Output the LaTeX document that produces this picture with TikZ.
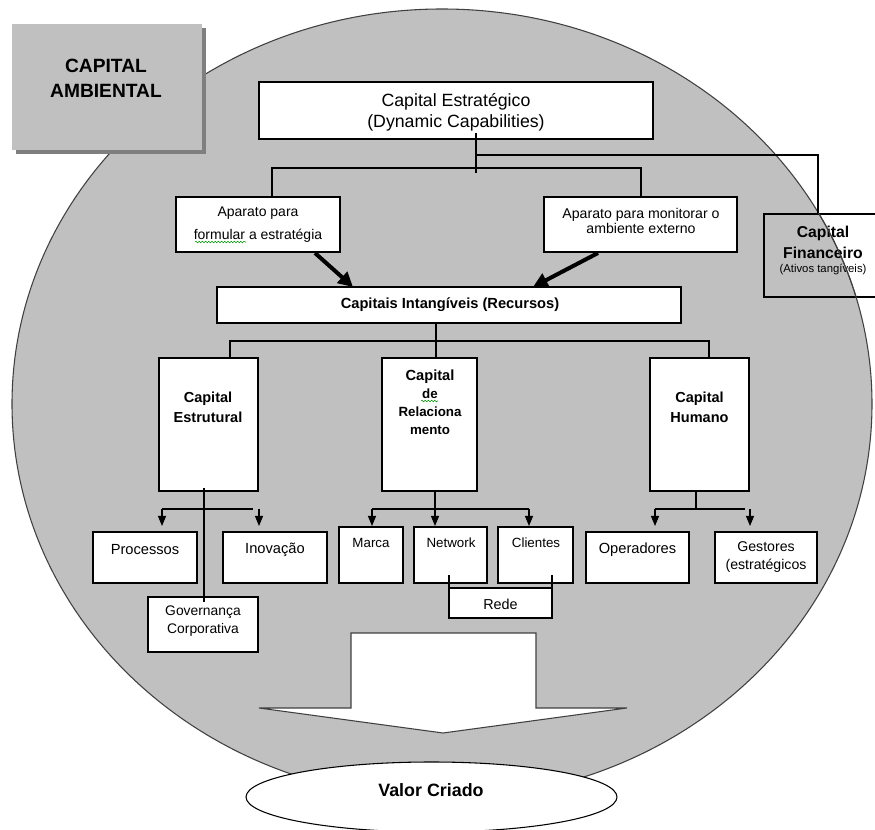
\documentclass[tikz,border=0pt]{standalone}
\usepackage{fontspec}
\setmainfont{Liberation Sans}
\usetikzlibrary{arrows.meta,shapes.geometric,fit,decorations.pathmorphing}
\definecolor{envgray}{HTML}{C0C0C0}
\definecolor{shadowgray}{HTML}{7F7F7F}
\definecolor{rim}{HTML}{404040}
\newcommand\fsz[2]{\fontsize{#1}{#2}\selectfont}

\begin{document}
\begin{tikzpicture}[x=0.75pt,y=-0.75pt,
  box/.style={draw=black, line width=0.9pt, fill=white, inner sep=0pt},
  txt/.style={inner sep=0pt, align=center, text=black},
  link/.style={draw=black, line width=0.8pt},
  drop/.style={link, -{Triangle[length=7.5pt,width=6pt]}},
  bigarrow/.style={draw=black, line width=3pt, -{Triangle[length=11pt,width=11pt]}},
  squiggle/.style={draw=green!55!black, line width=0.4pt, decorate,
    decoration={snake, segment length=2.4pt, amplitude=0.6pt}}
]
\useasboundingbox (0,0) rectangle (875,830);
\clip (0,0) rectangle (875,830);

% environment (grey ellipse)
\node[ellipse, draw=rim, line width=0.8pt, fill=envgray, inner sep=0pt,
      minimum width=645pt, minimum height=592.5pt] (env) at (442,404) {};

% CAPITAL AMBIENTAL label with drop shadow
\node[fill=shadowgray, inner sep=0pt, fit={(16,28) (206,154)}] (amb-shadow) {};
\node[fill=envgray, inner sep=0pt, fit={(12,24) (202,150)}] (amb) {};
\node[txt, font=\fsz{14.4}{18.75}\bfseries] (amb-t) at (106,78.5) {CAPITAL\\AMBIENTAL};

% broad arrow towards the created value
\filldraw[fill=white, draw=rim, line width=0.8pt]
  (351,633) -- (536,633) -- (536,708) -- (627,708) -- (443,733)
  -- (259,708) -- (351,708) -- cycle;

% created value
\node[ellipse, draw=black, line width=0.8pt, fill=white, inner sep=0pt,
      minimum width=278.25pt, minimum height=52.5pt] (valor) at (431.5,797) {};
\node[txt, font=\fsz{13.4}{16}\bfseries] (valor-t) at (431,790) {Valor Criado};

% strategic capital
\node[box, fit={(259,82) (653,139)}] (strat) {};
\node[txt, font=\fsz{13.3}{15.75}] (strat-t) at (456,112.5)
  {Capital Estratégico\\(Dynamic Capabilities)};

% the two apparatus boxes
\node[box, fit={(176,197) (340,252)}] (form) {};
\node[txt, font=\fsz{10.5}{17.25}] (form-t) at (258,224.5)
  {Aparato para\\formular a estratégia};
\draw[squiggle] (195,242) -- (246,242);
\node[box, fit={(544,197) (737,252)}] (moni) {};
\node[txt, font=\fsz{10.6}{11.6}] (moni-t) at (641,221)
  {Aparato para monitorar o\\ambiente externo};

% financial capital (open box)
\node[draw=black, line width=0.9pt, inner sep=0pt, fit={(764,214) (882,297)}] (fin) {};
\node[txt, font=\fsz{11.8}{15.75}\bfseries] (fin-t) at (823,242.5) {Capital\\Financeiro};
\node[txt, font=\fsz{8.5}{10}] (fin-s) at (823,270) {(Ativos tangíveis)};
\begin{scope}
  \clip (fin.north west) rectangle (fin.south east);
  \draw[rim, line width=0.8pt] (442,404) ellipse [x radius=322.5pt, y radius=296.25pt];
\end{scope}

% links below the strategic capital
\coordinate (s-top) at (476,133);
\coordinate (s-bot) at (476,173);
\draw[link] (s-top) -- (s-bot);
\coordinate (bl) at (272,168);
\coordinate (br) at (641,168);
\draw[link] (bl |- form.north) -- (bl) -- (br) -- (br |- moni.north);
\coordinate (fl) at (476,155);
\coordinate (fr) at (818,155);
\draw[link] (fl) -- (fr) -- (fr |- fin.north);

% intangible capitals
\node[box, fit={(217,287) (681,323)}] (intang) {};
\node[txt, font=\fsz{11}{13}\bfseries] (intang-t) at (450,305)
  {Capitais Intangíveis (Recursos)};
\coordinate (aL1) at (315,253);
\coordinate (aL2) at (353,287);
\coordinate (aR1) at (598,253);
\coordinate (aR2) at (533,287);
\draw[bigarrow] (aL1) -- (aL2);
\draw[bigarrow] (aR1) -- (aR2);

% the three kinds of intangible capital
\node[box, fit={(159,358) (258,491)}] (estr) {};
\node[txt, font=\fsz{10.9}{15}\bfseries] (estr-t) at (208,407) {Capital\\Estrutural};
\node[box, fit={(382,358) (477,491)}] (rel) {};
\node[txt, font=\fsz{10}{13.5}\bfseries] (rel-t) at (430,402)
  {{\fsz{11}{13.5}Capital}\\de\\Relaciona\\mento};
\draw[squiggle] (421,401) -- (438,401);
\node[box, fit={(650,358) (749,491)}] (hum) {};
\node[txt, font=\fsz{10.9}{15}\bfseries] (hum-t) at (699.5,407) {Capital\\Humano};

\coordinate (iv) at (436,341);
\coordinate (ivl) at (230,341);
\coordinate (ivr) at (709,341);
\draw[link] (iv |- intang.south) -- (iv |- rel.north);
\draw[link] (ivl |- estr.north) -- (ivl) -- (ivr) -- (ivr |- hum.north);

% structural capital components
\node[box, fit={(93,532) (197,583)}] (proc) {};
\node[txt, font=\fsz{11}{13}] (proc-t) at (145,550) {Processos};
\node[box, fit={(223,532) (327,583)}] (inov) {};
\node[txt, font=\fsz{11}{13}] (inov-t) at (275,550) {Inovação};
\node[box, fit={(148,597) (258,652)}] (gov) {};
\node[txt, font=\fsz{10.4}{13.5}] (gov-t) at (203,621) {Governança\\Corporativa};

\coordinate (e1) at (204,488);
\coordinate (e2) at (204,509);
\coordinate (e3) at (204,602);
\draw[link, line width=1.6pt] (e1) -- (e2);
\draw[link] (e2) -- (e3);
\coordinate (eh1) at (162,509);
\coordinate (eh2) at (253,509);
\coordinate (et1) at (162,526);
\coordinate (eh3) at (259,509);
\coordinate (et2) at (259,526);
\draw[link] (eh1) -- (eh2);
\draw[drop] (eh1) -- (et1);
\draw[drop] (eh3) -- (et2);

% relationship capital components
\node[box, fit={(339,527) (403,583)}] (marca) {};
\node[txt, font=\fsz{10}{12}] (marca-t) at (371,543) {Marca};
\node[box, fit={(414,527) (487,583)}] (net) {};
\node[txt, font=\fsz{10}{12}] (net-t) at (451,543) {Network};
\node[box, fit={(498,527) (573,583)}] (cli) {};
\node[txt, font=\fsz{10}{12}] (cli-t) at (536,543) {Clientes};
\node[box, fit={(449,588) (552,618)}] (rede) {};
\node[txt, font=\fsz{10.8}{13}] (rede-t) at (500.5,604) {Rede};

\coordinate (r0) at (435,509);
\draw[link] (r0 |- rel.south) -- (r0);
\coordinate (rh1) at (372,509);
\coordinate (rh2) at (529,509);
\coordinate (rt1) at (372,526);
\coordinate (rt2) at (435,526);
\coordinate (rt3) at (529,526);
\draw[link] (rh1) -- (rh2);
\draw[drop] (rh1) -- (rt1);
\draw[drop] (r0) -- (rt2);
\draw[drop] (rh2) -- (rt3);

\coordinate (n1) at (449,575);
\coordinate (c1) at (552,575);
\draw[link] (n1) -- (n1 |- rede.north);
\draw[link] (c1) -- (c1 |- rede.north);

% human capital components
\node[box, fit={(586,532) (689,583)}] (oper) {};
\node[txt, font=\fsz{11}{13}] (oper-t) at (637.5,550) {Operadores};
\node[box, fit={(715,532) (817,583)}] (gest) {};
\node[txt, font=\fsz{10.6}{13.5}] (gest-t) at (766,557) {Gestores\\(estratégicos};

\coordinate (h0) at (696,509);
\draw[link] (h0 |- hum.south) -- (h0);
\coordinate (hh1) at (655,509);
\coordinate (hh2) at (745,509);
\coordinate (ht1) at (655,526);
\coordinate (hh3) at (750,509);
\coordinate (ht2) at (750,526);
\draw[link] (hh1) -- (hh2);
\draw[drop] (hh1) -- (ht1);
\draw[drop] (hh3) -- (ht2);
\end{tikzpicture}
\end{document}
